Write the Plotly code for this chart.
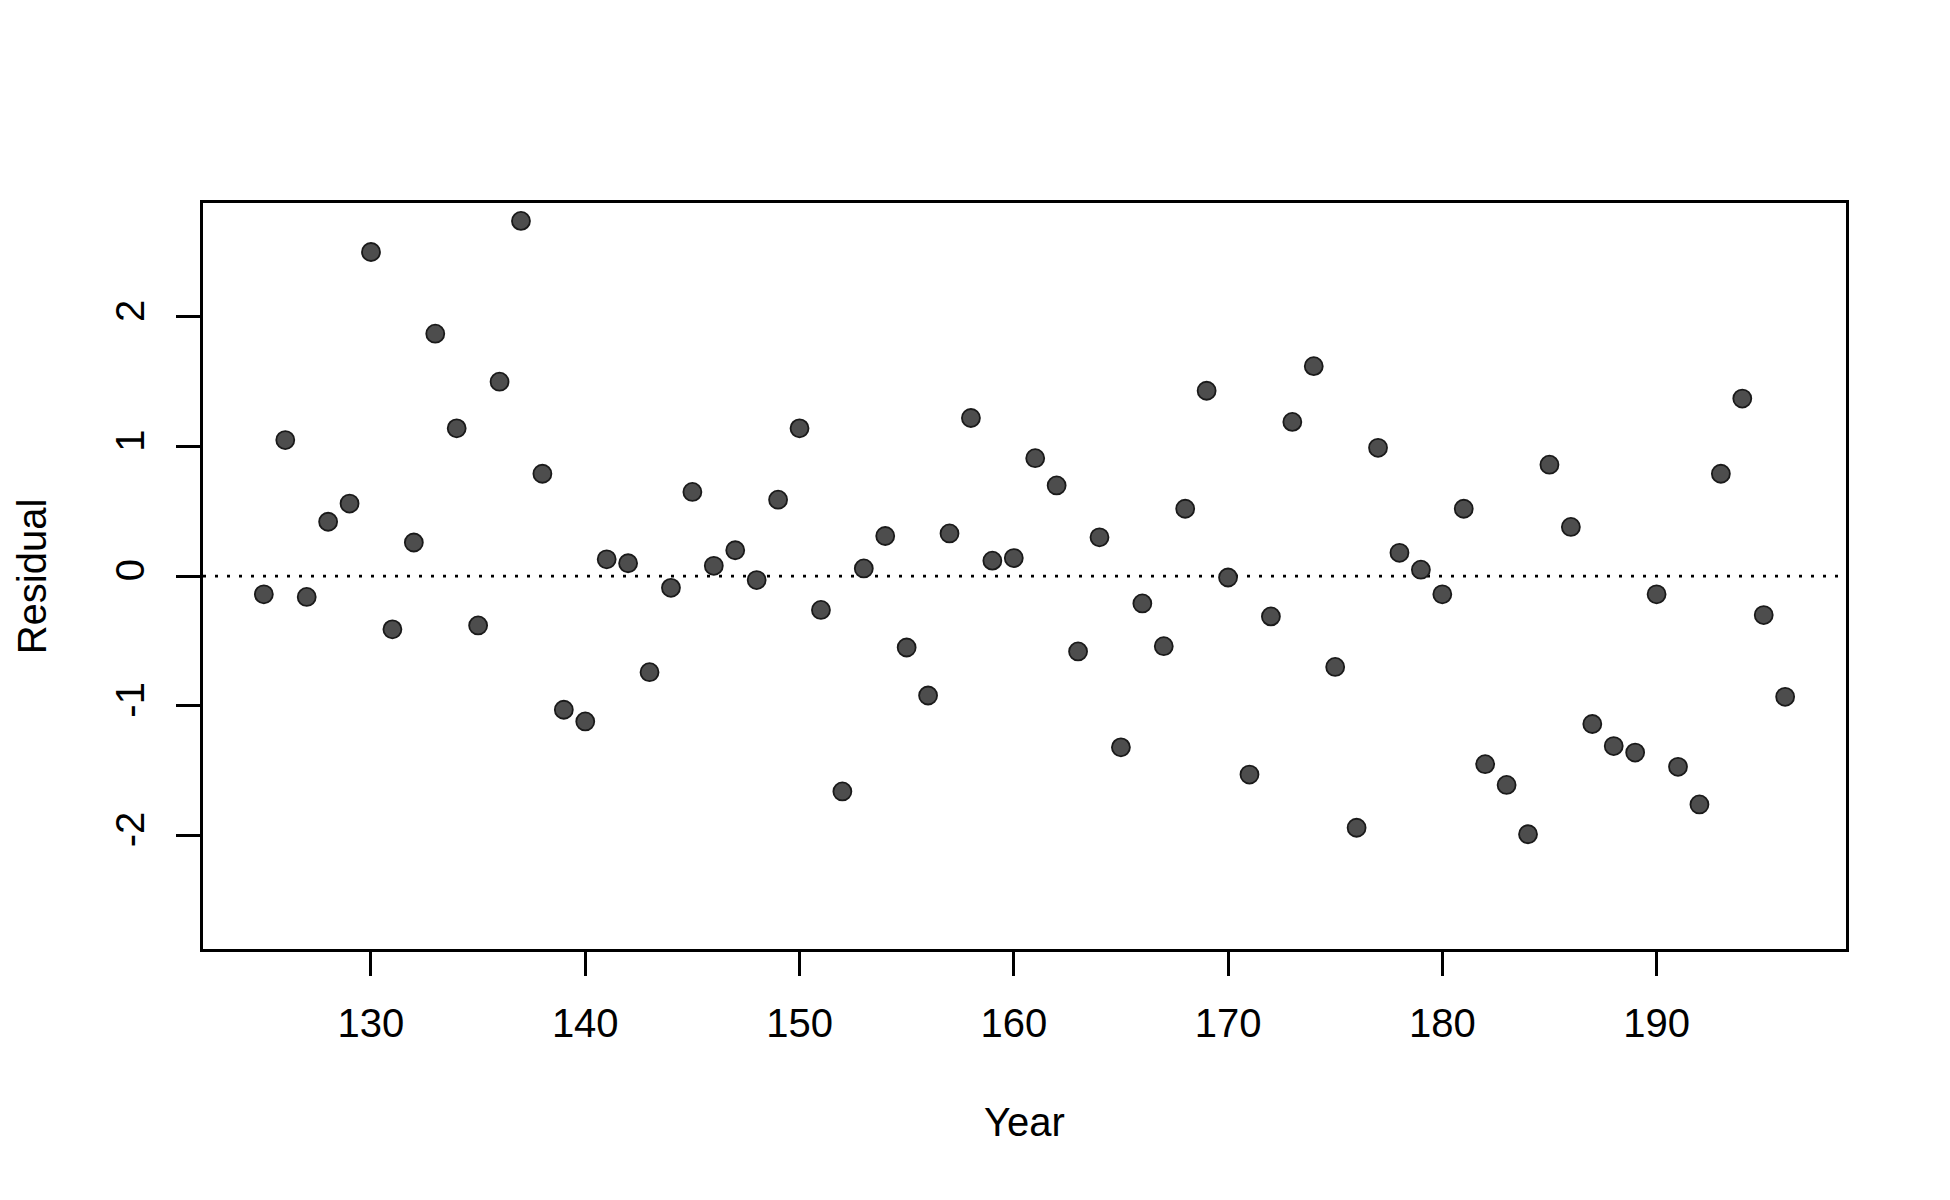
import plotly.graph_objects as go

years = list(range(125, 197))
residuals = [
    -0.14, 1.05, -0.16, 0.42, 0.56, 2.50, -0.41, 0.26, 1.87, 1.14,
    -0.38, 1.50, 2.74, 0.79, -1.03, -1.12, 0.13, 0.10, -0.74, -0.09,
    0.65, 0.08, 0.20, -0.03, 0.59, 1.14, -0.26, -1.66, 0.06, 0.31,
    -0.55, -0.92, 0.33, 1.22, 0.12, 0.14, 0.91, 0.70, -0.58, 0.30,
    -1.32, -0.21, -0.54, 0.52, 1.43, -0.01, -1.53, -0.31, 1.19, 1.62,
    -0.70, -1.94, 0.99, 0.18, 0.05, -0.14, 0.52, -1.45, -1.61, -1.99,
    0.86, 0.38, -1.14, -1.31, -1.36, -0.14, -1.47, -1.76, 0.79, 1.37,
    -0.30, -0.93,
]
x_ticks = [130, 140, 150, 160, 170, 180, 190]
y_ticks = [-2, -1, 0, 1, 2]
y_tick_labels = ["-2", "-1", "0", "1", "2"]

FONT = "Liberation Sans, Arial, sans-serif"

fig = go.Figure()
fig.add_trace(go.Scatter(
    x=years, y=residuals, mode="markers",
    marker=dict(size=18, color="#4d4d4d", line=dict(color="#1a1a1a", width=1.8)),
    hoverinfo="x+y",
))

fig.add_shape(type="line", xref="paper", yref="y", x0=0, x1=1, y0=0, y1=0,
              line=dict(color="black", width=2.7, dash="3px,9px"), layer="below")

axis_common = dict(
    showline=True, mirror=True, linecolor="black", linewidth=2.7,
    ticks="outside", ticklen=24, tickwidth=2.7, tickcolor="black",
    showgrid=False, zeroline=False,
    tickfont=dict(family=FONT, size=40, color="black"),
)

fig.update_xaxes(range=[122.16, 198.84], tickmode="array", tickvals=x_ticks,
                 ticktext=[str(v) for v in x_ticks], ticklabelstandoff=13,
                 **axis_common)
fig.update_yaxes(range=[-2.875, 2.878], tickmode="array", tickvals=y_ticks,
                 ticktext=y_tick_labels, tickangle=-90, ticklabelstandoff=16,
                 **axis_common)

fig.update_layout(
    width=1950, height=1200,
    margin=dict(l=195, r=112, t=195, b=259),
    plot_bgcolor="white", paper_bgcolor="white",
    showlegend=False,
    font=dict(family=FONT, color="black"),
    annotations=[
        dict(text="Year", xref="paper", yref="paper", x=0.5, y=-0.2313,
             xanchor="center", yanchor="middle", showarrow=False,
             font=dict(family=FONT, size=40, color="black")),
        dict(text="Residual", xref="paper", yref="paper", x=-0.1039, y=0.5,
             xanchor="center", yanchor="middle", textangle=-90, showarrow=False,
             font=dict(family=FONT, size=40, color="black")),
    ],
)

fig.write_html("out.html")
